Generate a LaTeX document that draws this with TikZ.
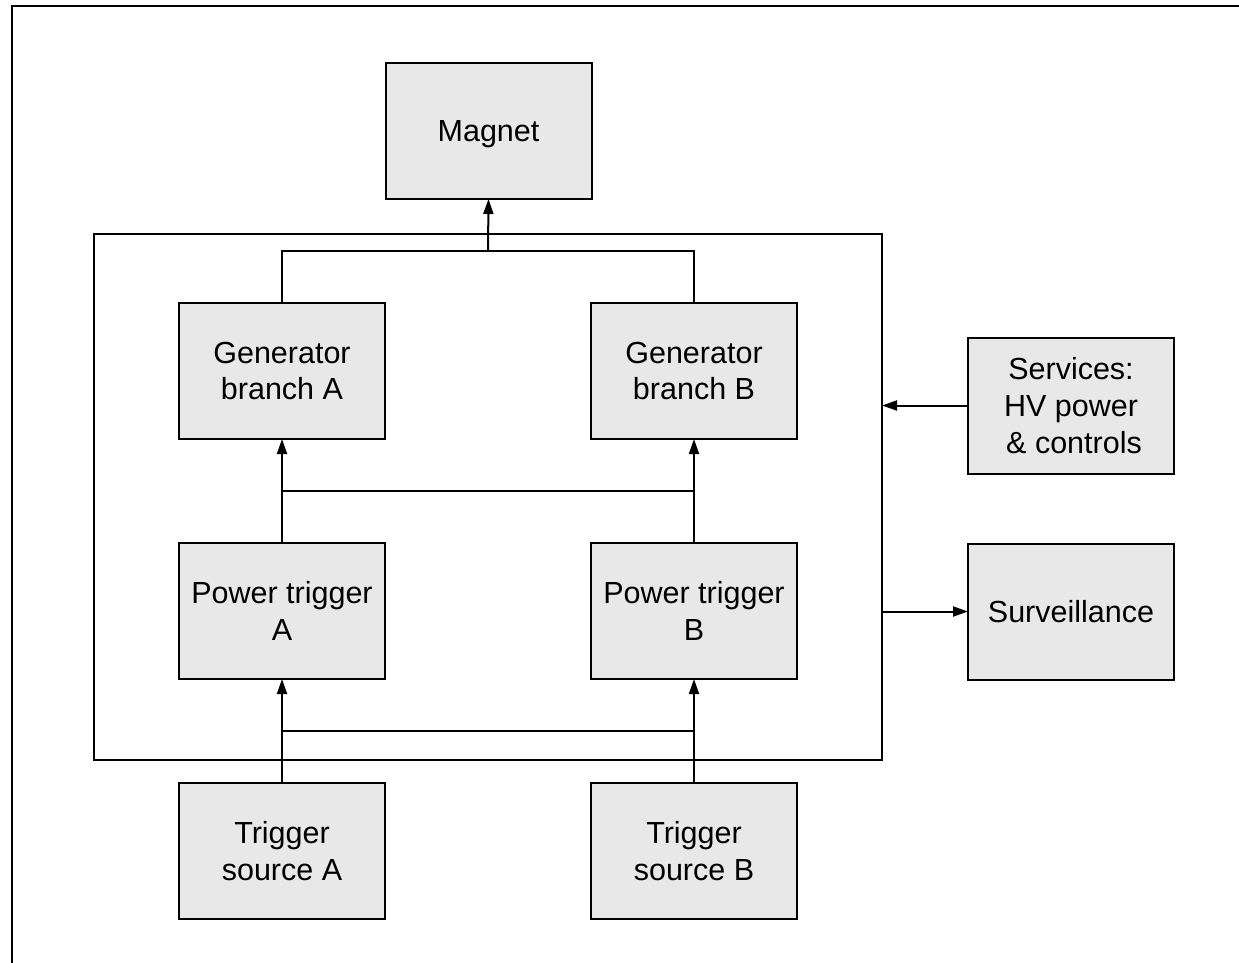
\documentclass[tikz,border=0pt]{standalone}
\usepackage{fontspec}
\setmainfont{Liberation Sans}
\usetikzlibrary{arrows.meta}
\definecolor{boxfill}{HTML}{E8E8E8}
\begin{document}
\begin{tikzpicture}[x=1pt,y=-1pt,
  blk/.style={draw, line width=2pt, fill=boxfill, minimum width=206pt, minimum height=136pt,
    inner sep=0pt, outer sep=0pt, align=center, font=\fontsize{30.5}{36.7}\selectfont},
  wire/.style={line width=2pt},
  arr/.style={line width=2pt, -{Triangle[length=15pt,width=10pt]}}]
\useasboundingbox (0,0) rectangle (1239,962);
\draw[line width=2.5pt] (12,965) -- (12,6) -- (1242,6);
\node[draw, line width=2pt, minimum width=788pt, minimum height=526pt, inner sep=0pt, outer sep=0pt] (frame) at (488,497) {};
\node[blk] (mag) at (488.5,131) {\raisebox{0pt}[\height][0pt]{Magnet}};
\node[blk] (gA) at (282,371) {Generator\\branch A};
\node[blk] (gB) at (694,371) {Generator\\branch B};
\node[blk] (pA) at (282,611) {Power trigger\\A};
\node[blk] (pB) at (694,611) {Power trigger\\B};
\node[blk] (tA) at (282,851) {Trigger\\source A};
\node[blk] (tB) at (694,851) {Trigger\\source B};
\node[blk] (svc) at (1071,405.5) {Services:\\HV power\\\hspace{6pt}\& controls};
\node[blk] (srv) at (1071,611.5) {Surveillance};
\coordinate (top) at (488,251);
\coordinate (hA) at (282,491);
\coordinate (hB) at (694,491);
\coordinate (lA) at (282,731);
\coordinate (lB) at (694,731);
\draw[wire] (gA.north) |- (top) -| (gB.north);
\draw[arr] (top) -- (mag.south);
\draw[arr] (pA.north) -- (gA.south);
\draw[arr] (pB.north) -- (gB.south);
\draw[wire] (hA) -- (hB);
\draw[arr] (tA.north) -- (pA.south);
\draw[arr] (tB.north) -- (pB.south);
\draw[wire] (lA) -- (lB);
\draw[arr] (svc.west) -- (svc.west -| frame.east);
\draw[arr] (srv.west -| frame.east) -- (srv.west);
\end{tikzpicture}
\end{document}
